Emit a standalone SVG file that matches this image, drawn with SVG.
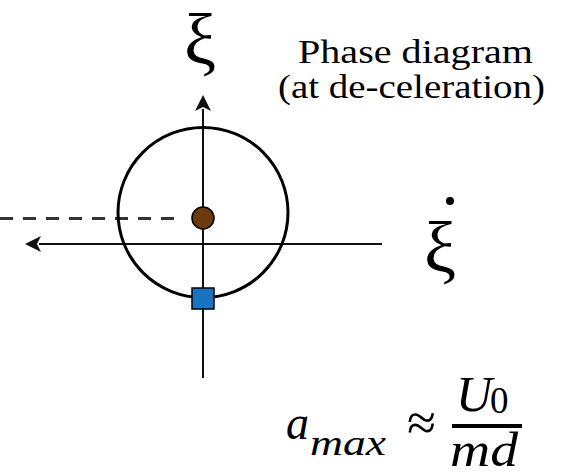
<svg xmlns="http://www.w3.org/2000/svg" width="562" height="475" viewBox="0 0 562 475">
<style>
.axis{stroke:#111;stroke-width:2;fill:none}
</style>
<defs>
<marker id="arr" viewBox="0 0 16 16" refX="2" refY="8" markerWidth="16" markerHeight="16" markerUnits="userSpaceOnUse" orient="auto">
<path d="M16,8 L0,0 L4,8 L0,16 Z" fill="#111"/>
</marker>
</defs>
<rect width="562" height="475" fill="#fff"/>
<g id="connectors">
<line class="axis" x1="203" y1="378" x2="203" y2="109" marker-end="url(#arr)"/>
<line class="axis" x1="382" y1="244" x2="39" y2="244" marker-end="url(#arr)"/>
<line x1="0" y1="218.5" x2="182" y2="218.5" stroke="#333" stroke-width="3" stroke-dasharray="13,10"/>
</g>
<g id="orbit">
<circle cx="203" cy="212.5" r="85" fill="none" stroke="#000" stroke-width="3"/>
</g>
<g id="ball">
<circle cx="203" cy="218" r="11" fill="#6b3a0e" stroke="#000" stroke-width="1.5"/>
</g>
<g id="square">
<rect x="192" y="288" width="22" height="21" fill="#1a72c2" stroke="#000" stroke-width="1.5"/>
</g>
<g id="label-xi" font-family="Liberation Serif, DejaVu Serif, serif" fill="#000">
<text x="200" y="64" font-size="72" text-anchor="middle">ξ</text>
</g>
<g id="label-xidot" font-family="Liberation Serif, DejaVu Serif, serif" fill="#000">
<text x="440" y="272" font-size="72" text-anchor="middle">ξ</text>
<circle cx="450" cy="201" r="4" fill="#000"/>
</g>
<g id="title" font-family="Liberation Serif, DejaVu Serif, serif" fill="#000" font-size="34">
<text x="298" y="63" textLength="235" lengthAdjust="spacingAndGlyphs">Phase diagram</text>
<text x="278" y="98" textLength="267" lengthAdjust="spacingAndGlyphs">(at de-celeration)</text>
</g>
<g id="formula" font-family="Liberation Serif, DejaVu Serif, serif" fill="#000">
<text x="286" y="439" font-size="48" font-style="italic" textLength="23" lengthAdjust="spacingAndGlyphs">a</text>
<text x="310" y="455" font-size="35" font-style="italic" textLength="76" lengthAdjust="spacingAndGlyphs">max</text>
<text x="407" y="440" font-size="52" textLength="29" lengthAdjust="spacingAndGlyphs">≈</text>
<text x="456" y="411" font-size="50" font-style="italic">U<tspan x="490" dy="2" font-size="37" font-style="normal">0</tspan></text>
<line x1="452" y1="426" x2="522" y2="426" stroke="#000" stroke-width="4"/>
<text x="450" y="466" font-size="48" font-style="italic" textLength="68" lengthAdjust="spacingAndGlyphs">md</text>
</g>
</svg>
